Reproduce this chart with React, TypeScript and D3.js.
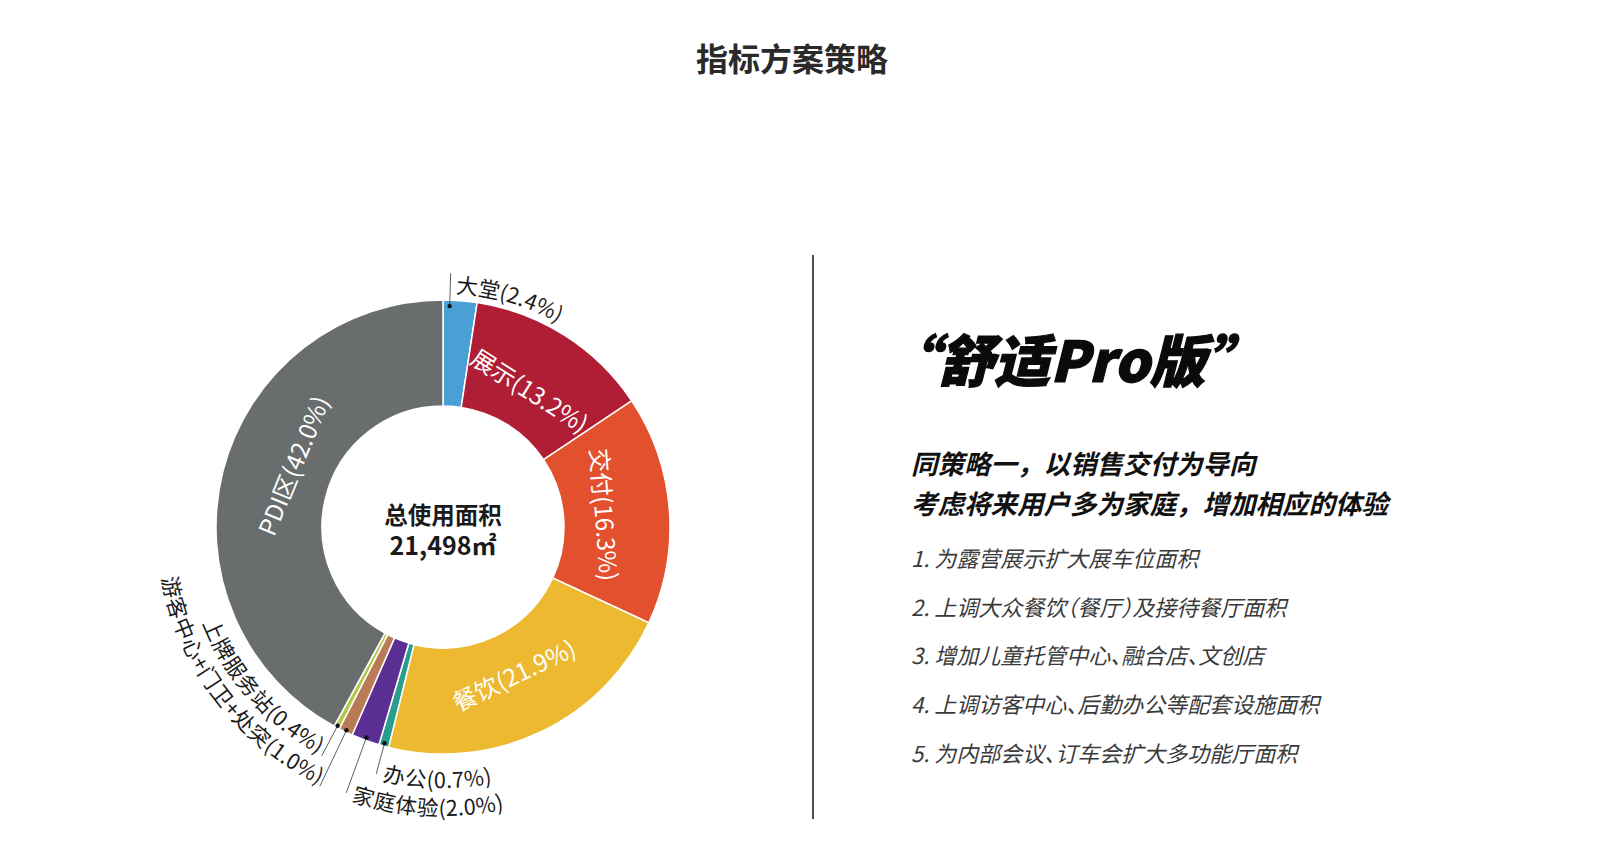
import React from 'react';
import * as d3 from 'd3';

// floor-area split of the showroom, share of the total in percent
const categories = ['大堂', '展示', '交付', '餐饮', '办公', '家庭体验', '游客中心+门卫+处突', '上牌服务站', 'PDI区'];
const shares = [2.4, 13.2, 16.3, 21.9, 0.7, 2.0, 1.0, 0.4, 42.0];
const sliceColors = ['#4a9fd5', '#b01e36', '#e2502e', '#ecb930', '#2a9d8c', '#5a2e92', '#b97b55', '#b4c84a', '#6a6d6e'];
const totalArea = 21498;

const pageTitle = '指标方案策略';
const planName = '“舒适Pro版”';
const planSummary = ['同策略一，以销售交付为导向', '考虑将来用户多为家庭，增加相应的体验'];
const planNotes = [
  '1. 为露营展示扩大展车位面积',
  '2. 上调大众餐饮（餐厅）及接待餐厅面积',
  '3. 增加儿童托管中心、融合店、文创店',
  '4. 上调访客中心、后勤办公等配套设施面积',
  '5. 为内部会议、订车会扩大多功能厅面积',
];

const W = 1600;
const H = 857;
const FONT = '"Noto Sans CJK SC", "Noto Sans", sans-serif';

const cx = 443;
const cy = 527;
const outerR = 227;
const innerR = 121;
const labelR = 163;

const rad = (deg: number) => (deg * Math.PI) / 180;

// thin slices are labelled outside the ring: dot + leader line, text bent along a circle
type OuterLayout = {
  at: number; dotR: number; lineR: number; textR: number;
  dir: 'cw' | 'ccw'; anchor: 'start' | 'end'; gap: number;
};
const outerLayout: Record<string, OuterLayout> = {
  '大堂': { at: 0.2, dotR: 221, lineR: 254, textR: 234, dir: 'cw', anchor: 'start', gap: 1.4 },
  '办公': { at: 0.5, dotR: 224, lineR: 256, textR: 251, dir: 'ccw', anchor: 'start', gap: 1.6 },
  '家庭体验': { at: 0.5, dotR: 224, lineR: 283, textR: 279, dir: 'ccw', anchor: 'start', gap: 1.4 },
  '游客中心+门卫+处突': { at: 0.5, dotR: 225, lineR: 287, textR: 276, dir: 'ccw', anchor: 'end', gap: 0.3 },
  '上牌服务站': { at: 0.5, dotR: 225, lineR: 259, textR: 249, dir: 'ccw', anchor: 'end', gap: 0.8 },
};
// nudge for inside labels, degrees
const innerShift: Record<string, number> = { 'PDI区': 8 };

const polar = (a: number, r: number): [number, number] => [r * Math.sin(a), -r * Math.cos(a)];

function arcD(a0: number, a1: number, r: number) {
  const [sx, sy] = polar(a0, r);
  const [ex, ey] = polar(a1, r);
  return `M${sx},${sy} A${r},${r} 0 0 ${a1 > a0 ? 1 : 0} ${ex},${ey}`;
}

export default function App() {
  const pie = d3.pie<number>().sort(null).value((d) => d);
  const arcs = pie(shares);
  const arcPath = d3.arc<d3.PieArcDatum<number>>().innerRadius(innerR).outerRadius(outerR);

  const labelOf = (i: number) => `${categories[i]}(${shares[i].toFixed(1)}%)`;

  return (
    <svg width={W} height={H} style={{ position: 'absolute', left: 0, top: 0, background: '#fff' }} fontFamily={FONT}>
      <text x={792} y={71} textAnchor="middle" fontSize={32} fontWeight={700} fill="#2a2a2a">{pageTitle}</text>

      <g transform={`translate(${cx},${cy})`}>
        {arcs.map((d, i) => (
          <path key={categories[i]} d={arcPath(d) ?? ''} fill={sliceColors[i]} stroke="#fff" strokeWidth={1.5} />
        ))}

        {arcs.map((d, i) => {
          const name = categories[i];
          if (outerLayout[name]) return null;
          const a = (d.startAngle + d.endAngle) / 2 + rad(innerShift[name] ?? 0);
          const deg = (a * 180) / Math.PI;
          const rot = deg > 90 && deg < 270 ? deg - 180 : deg;
          const [x, y] = polar(a, labelR);
          return (
            <text key={name} transform={`translate(${x},${y}) rotate(${rot})`} textAnchor="middle"
              dominantBaseline="central" fontSize={24} fill="#fff">{labelOf(i)}</text>
          );
        })}

        {arcs.map((d, i) => {
          const name = categories[i];
          const o = outerLayout[name];
          if (!o) return null;
          const a = d.startAngle + o.at * (d.endAngle - d.startAngle);
          const [dx0, dy0] = polar(a, o.dotR);
          const [lx, ly] = polar(a, o.lineR);
          const span = 1.6;
          let path: string;
          if (o.dir === 'cw') {
            path = arcD(a + rad(o.gap), a + rad(o.gap) + span, o.textR);
          } else if (o.anchor === 'start') {
            path = arcD(a - rad(o.gap), a - rad(o.gap) - span, o.textR);
          } else {
            path = arcD(a + rad(o.gap) + span, a + rad(o.gap), o.textR);
          }
          const id = `outer-label-${i}`;
          return (
            <g key={name}>
              <line x1={dx0} y1={dy0} x2={lx} y2={ly} stroke="#333" strokeWidth={0.8} />
              <circle cx={dx0} cy={dy0} r={2.2} fill="#111" />
              <path id={id} d={path} fill="none" />
              <text fontSize={21.5} fill="#1a1a1a" textAnchor={o.anchor}
                dominantBaseline={o.dir === 'ccw' ? 'central' : 'auto'}>
                <textPath href={`#${id}`} startOffset={o.anchor === 'end' ? '100%' : '0%'}>{labelOf(i)}</textPath>
              </text>
            </g>
          );
        })}

        <text y={-3} textAnchor="middle" fontSize={23.5} fontWeight={700} fill="#1a1a1a">总使用面积</text>
        <text y={28} textAnchor="middle" fontSize={25} fontWeight={700} fill="#1a1a1a">{`${d3.format(',')(totalArea)}㎡`}</text>
      </g>

      <line x1={813} y1={255} x2={813} y2={819} stroke="#111" strokeWidth={1.5} />

      <text x={882} y={382} fontSize={56} fontWeight={900} fontStyle="italic" fill="#0a0a0a"
        stroke="#0a0a0a" strokeWidth={1.2}>{planName}</text>
      {planSummary.map((s, i) => (
        <text key={s} x={911} y={474 + i * 40} fontSize={26.5} fontWeight={700} fontStyle="italic" fill="#111">{s}</text>
      ))}
      {planNotes.map((s, i) => (
        <text key={s} x={911} y={567 + i * 48.7} fontSize={22} fontStyle="italic" fill="#3a3a3a"
          style={{ fontFeatureSettings: '"halt"' }}>{s}</text>
      ))}
    </svg>
  );
}
